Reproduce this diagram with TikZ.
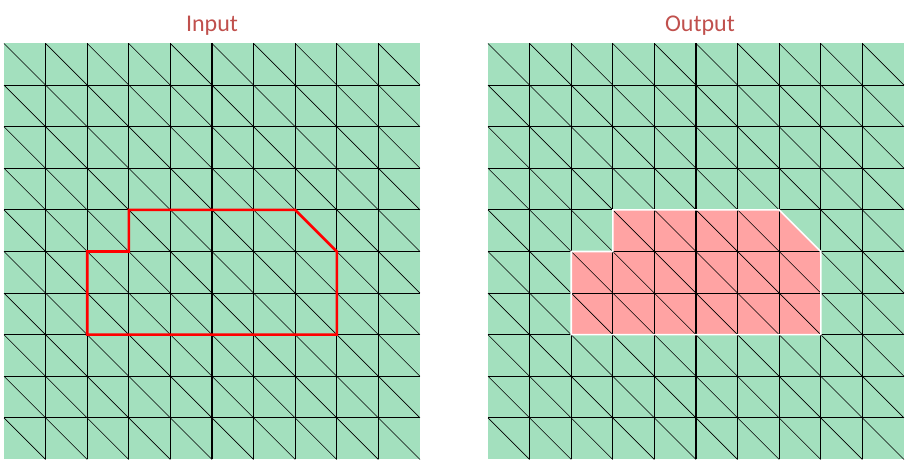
\documentclass[tikz,border=0pt]{standalone}
\usepackage{fontspec}
\setmainfont{Carlito}
\usetikzlibrary{positioning}

\definecolor{meshgreen}{RGB}{163,224,190}
\definecolor{holepink}{RGB}{255,163,163}
\definecolor{titlered}{RGB}{192,80,77}

\tikzset{
  gridline/.style={black, line width=1.1pt},
  diagline/.style={black, line width=0.6pt},
  titletext/.style={text=titlered, font=\fontsize{24}{28}\selectfont, inner sep=0pt},
  meshcell/.style={x=41.6pt, y=-41.6pt},
}

% 10x10 triangulated mesh, cell units, y pointing down
\newcommand{\trimesh}{%
  \foreach \i in {0,...,9}
    \foreach \j in {0,...,9}
      \draw[diagline] (\i,\j) -- ++(1,1);
  \foreach \k in {1,...,9} {
    \draw[gridline] (\k,0) -- (\k,10);
    \draw[gridline] (0,\k) -- (10,\k);
  }%
}
\newcommand{\holepath}{(3,4) -- (7,4) -- (8,5) -- (8,7) -- (2,7) -- (2,5) -- (3,5) -- cycle}

\begin{document}
\begin{tikzpicture}
\useasboundingbox (0pt,0pt) rectangle (908pt,463pt);

\coordinate (intop) at (212pt,437pt);
\coordinate (outtop) at (700pt,437pt);
\node[titletext] (intitle) at (intop) {Input};
\node[titletext] (outtitle) at (outtop) {Output};

% input mesh
\begin{scope}[meshcell, shift={(4pt,419.5pt)}]
  \fill[meshgreen] (0,0) rectangle (10,10);
  \trimesh
  \draw[red, line width=2.6pt, line join=miter] \holepath;
\end{scope}

% output mesh
\begin{scope}[meshcell, shift={(488pt,419.5pt)}]
  \fill[meshgreen] (0,0) rectangle (10,10);
  \fill[holepink] \holepath;
  \trimesh
  \draw[white, line width=1.6pt] \holepath;
\end{scope}
\end{tikzpicture}
\end{document}
